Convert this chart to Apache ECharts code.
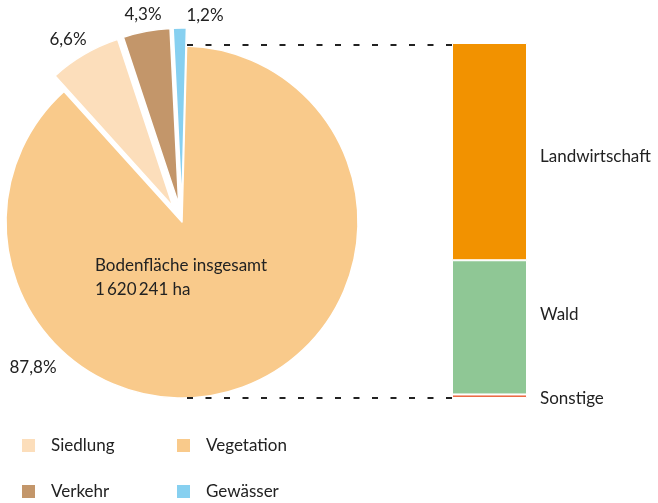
<!DOCTYPE html>
<html>
<head>
<meta charset="utf-8">
<script src="https://cdn.jsdelivr.net/npm/echarts@6/dist/echarts.min.js"></script>
<style>
  html, body { margin: 0; padding: 0; background: #fff; }
  #chart { width: 658px; height: 503px; }
</style>
</head>
<body>
<div id="chart"></div>
<script>
// Bodenfläche nach Nutzungsart (Anteile in %)
const pieNames = ['Vegetation', 'Siedlung', 'Verkehr', 'Gewässer']
const pieValues = [87.8, 6.6, 4.3, 1.2]
const pieColors = ['#F9CA8B', '#FCDEBB', '#C3966A', '#87D0F0']

// Aufteilung der Vegetation (Anteile in %), von unten nach oben
const barNames = ['Sonstige', 'Wald', 'Landwirtschaft']
const barValues = [1.0, 37.8, 61.2]
const barColors = ['#EC6B45', '#8FC795', '#F29200']

const totalLabel = ['Bodenfläche insgesamt', '1\u2009620\u2009241 ha']

const font = 'Lato'
const fs = 17
const chart = echarts.init(document.getElementById('chart'))

const fmt = v => v.toFixed(1).replace('.', ',') + '%'

// Lage der Prozentangaben am Kreis
const labelPos = [[33, 368], [68, 40], [143, 15], [205, 16]]
// vertikale Verschiebung der Balkenbeschriftungen
const barLabelDy = [2, -13, 5]

const legendBase = {
  top: 437,
  orient: 'vertical',
  padding: 0,
  height: 80,
  itemWidth: 15,
  itemHeight: 15,
  itemGap: 29,
  icon: 'rect',
  textStyle: { fontFamily: font, fontSize: fs, color: '#222', padding: [0, 0, 0, 10] }
}

const option = {
  animation: false,
  textStyle: { fontFamily: font },
  legend: [
    Object.assign({ left: 20, data: ['Siedlung', 'Verkehr'] }, legendBase),
    Object.assign({ left: 175, data: ['Vegetation', 'Gewässer'] }, legendBase)
  ],
  grid: { left: 452, top: 43, width: 75, height: 355 },
  xAxis: { type: 'category', data: ['Vegetation'], show: false },
  yAxis: { type: 'value', min: 0, max: 100, show: false },
  series: [{
    type: 'pie',
    center: [182, 222],
    radius: 176,
    startAngle: 88.5,
    clockwise: true,
    selectedMode: 'multiple',
    selectedOffset: 18,
    itemStyle: { borderColor: '#fff', borderWidth: 1.5 },
    emphasis: { disabled: true },
    label: { show: false },
    labelLine: { show: false },
    data: pieNames.map((n, i) => ({
      name: n,
      value: pieValues[i],
      selected: i > 0,
      itemStyle: { color: pieColors[i] }
    }))
  }].concat(barNames.map((n, i) => ({
    type: 'bar',
    name: n,
    stack: 'veg',
    barWidth: '100%',
    data: [barValues[i]],
    itemStyle: { color: barColors[i], borderColor: '#fff', borderWidth: 1 },
    emphasis: { disabled: true },
    label: {
      show: true,
      position: 'right',
      distance: 13,
      offset: [0, barLabelDy[i]],
      fontFamily: font,
      fontSize: fs,
      color: '#222',
      formatter: n
    }
  }))),
  graphic: [{
    type: 'line',
    z: 100,
    shape: { x1: 187, y1: 45, x2: 452, y2: 45 },
    style: { stroke: '#222', lineWidth: 2, lineDash: [6, 12.5] }
  }, {
    type: 'line',
    z: 100,
    shape: { x1: 187, y1: 398, x2: 452, y2: 398 },
    style: { stroke: '#222', lineWidth: 2, lineDash: [6, 12.5] }
  }, {
    type: 'text',
    z: 100,
    left: 95,
    top: 254,
    style: {
      text: totalLabel.join('\n'),
      font: fs + 'px ' + font,
      lineHeight: 24,
      fill: '#222'
    }
  }].concat(pieValues.map((v, i) => ({
    type: 'text',
    z: 100,
    x: labelPos[i][0],
    y: labelPos[i][1],
    style: {
      text: fmt(v),
      font: fs + 'px ' + font,
      fill: '#222',
      align: 'center',
      verticalAlign: 'middle'
    }
  })))
}

chart.setOption(option)
</script>
</body>
</html>
